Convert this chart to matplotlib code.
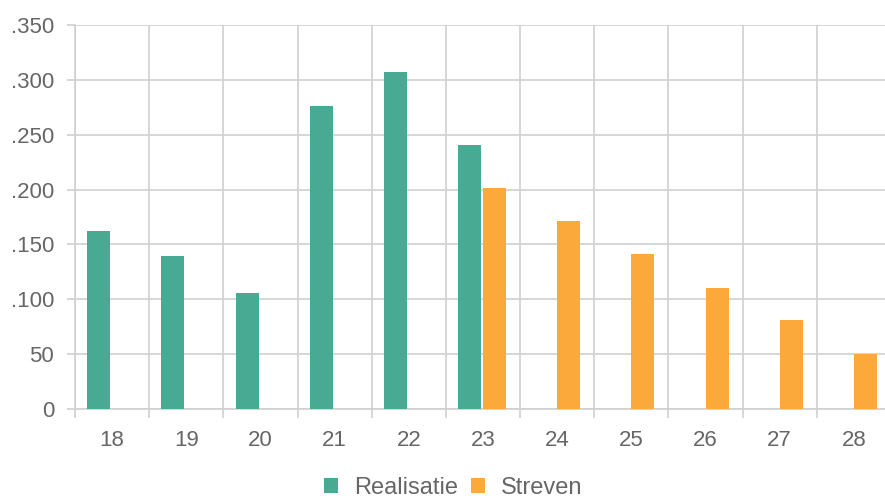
import matplotlib.pyplot as plt
import numpy as np

plt.rcParams['font.family'] = ['Liberation Sans', 'DejaVu Sans']

years = ['18', '19', '20', '21', '22', '23', '24', '25', '26', '27', '28']
realisatie = [162, 139, 106, 276, 307, 241, None, None, None, None, None]
streven = [None, None, None, None, None, 201, 171, 141, 110, 81, 50]
ytick_vals = [0, 50, 100, 150, 200, 250, 300, 350]
ytick_labels = ['0', '50', '.100', '.150', '.200', '.250', '.300', '.350']

green = '#49aa94'
orange = '#fba93b'
grid_col = '#d0d0d0'
text_col = '#666666'

fig = plt.figure(figsize=(8.85, 4.98), dpi=100)
# axes runs a bit past the right edge, like the cropped screenshot
ax = fig.add_axes([75 / 885, 1 - 409 / 498, 816 / 885, 384 / 498])

x = np.arange(len(years))
w = 0.31
r_x = [xi - 0.18 for xi, v in zip(x, realisatie) if v is not None]
r_y = [v for v in realisatie if v is not None]
s_x = [xi + 0.155 for xi, v in zip(x, streven) if v is not None]
s_y = [v for v in streven if v is not None]

ax.bar(r_x, r_y, width=w, color=green, label='Realisatie', zorder=3)
ax.bar(s_x, s_y, width=w, color=orange, label='Streven', zorder=3)

ax.set_xlim(-0.5, len(years) - 0.5)
ax.set_ylim(0, 350)

# grid lines between categories
ax.set_xticks(x)
ax.set_xticklabels(years)
ax.set_xticks(np.arange(-0.5, len(years)), minor=True)
ax.tick_params(axis='x', which='major', length=0, pad=15, labelsize=16, labelcolor=text_col)
ax.tick_params(axis='x', which='minor', length=6.5, color=grid_col, width=1.2)
ax.grid(True, axis='x', which='minor', color=grid_col, lw=1.2, zorder=0)

ax.set_yticks(ytick_vals)
ax.set_yticklabels(ytick_labels)
ax.tick_params(axis='y', length=6, color=grid_col, width=1.2, pad=9,
               labelsize=16, labelcolor=text_col)
ax.grid(True, axis='y', color=grid_col, lw=1.2, zorder=0)

for s in ['top', 'right']:
    ax.spines[s].set_visible(False)
for s in ['left', 'bottom']:
    ax.spines[s].set_color(grid_col)
    ax.spines[s].set_linewidth(1.2)

fig.legend(loc='center', bbox_to_anchor=(453 / 885, 1 - 488 / 498), ncol=2,
           frameon=False, fontsize=17, labelcolor=text_col, handlelength=0.6,
           handleheight=0.6, handletextpad=0.68, columnspacing=0.55,
           borderpad=0)

fig.savefig('out.png', dpi=100)
